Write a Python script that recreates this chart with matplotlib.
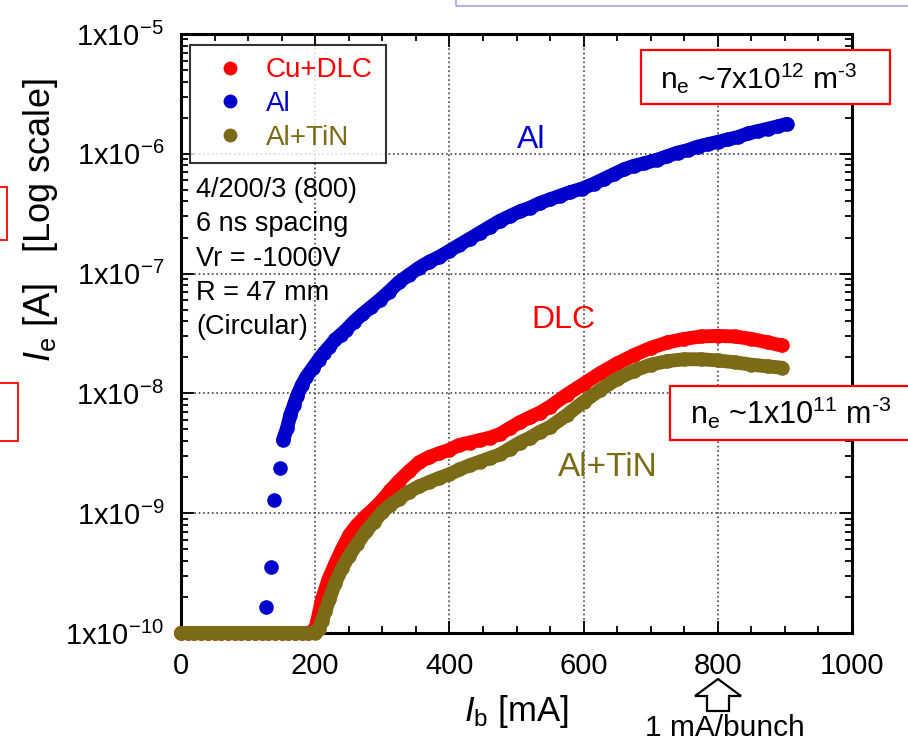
import matplotlib
matplotlib.use('Agg')
import matplotlib.pyplot as plt
from matplotlib.patches import Rectangle, Polygon
from matplotlib.ticker import FixedLocator, LogLocator, NullFormatter
import numpy as np

plt.rcParams['font.family'] = ['Liberation Sans', 'DejaVu Sans']
plt.rcParams['mathtext.fontset'] = 'custom'
plt.rcParams['mathtext.rm'] = 'Liberation Sans'
plt.rcParams['mathtext.it'] = 'Liberation Sans:italic'
plt.rcParams['mathtext.default'] = 'regular'

# ---- data: beam current [mA] and log10 of electron current [A]
dlc_ib = [0, 10, 20, 30, 40, 50, 60, 70, 80, 90, 100, 110, 120, 130, 140, 150,
          160, 170, 180, 190, 200, 205, 210, 220, 230, 240, 251, 262, 276, 288,
          300, 312, 325, 340, 355, 370, 385, 400, 415, 430, 445, 460, 475, 490,
          505, 520, 535, 550, 575, 600, 625, 650, 675, 700, 725, 750, 775, 800,
          825, 850, 875, 895]
dlc_log = [-10, -10, -10, -10, -10, -10, -10, -10, -10, -10, -10, -10, -10, -10,
           -10, -10, -10, -10, -10, -10, -9.97, -9.85, -9.72, -9.55, -9.42, -9.30,
           -9.18, -9.10, -9.02, -8.96, -8.89, -8.81, -8.73, -8.65, -8.575, -8.53,
           -8.50, -8.47, -8.43, -8.41, -8.39, -8.37, -8.34, -8.29, -8.24, -8.20,
           -8.16, -8.11, -8.01, -7.92, -7.83, -7.75, -7.68, -7.62, -7.575, -7.545,
           -7.525, -7.52, -7.525, -7.545, -7.575, -7.60]

al_ib = [127, 134, 139, 148, 152, 158, 163, 168, 173, 180, 187, 196, 205, 213,
         221, 230, 238, 246, 258, 270, 283, 296, 310, 325, 340, 355, 370, 385,
         400, 415, 430, 445, 460, 475, 490, 505, 520, 535, 550, 565, 580, 598,
         615, 630, 645, 660, 675, 690, 709, 725, 740, 755, 770, 785, 800, 815,
         830, 845, 860, 875, 890, 903]
al_log = [-9.78, -9.45, -8.89, -8.62, -8.39, -8.29, -8.18, -8.10, -8.02, -7.93,
          -7.86, -7.79, -7.72, -7.66, -7.61, -7.55, -7.51, -7.47, -7.40, -7.34,
          -7.28, -7.22, -7.15, -7.07, -7.01, -6.95, -6.90, -6.86, -6.81, -6.76,
          -6.71, -6.66, -6.61, -6.56, -6.52, -6.48, -6.45, -6.41, -6.38, -6.35,
          -6.32, -6.29, -6.25, -6.21, -6.17, -6.13, -6.10, -6.08, -6.05, -6.02,
          -5.99, -5.97, -5.94, -5.92, -5.90, -5.88, -5.86, -5.83, -5.81, -5.79,
          -5.77, -5.75]

tin_ib = [0, 10, 20, 30, 40, 50, 60, 70, 80, 90, 100, 110, 120, 130, 140, 150,
          160, 170, 180, 190, 200, 205, 210, 215, 221, 230, 240, 250, 262, 276,
          288, 300, 312, 325, 340, 355, 370, 385, 400, 415, 430, 445, 460, 475,
          490, 505, 520, 535, 550, 575, 600, 625, 650, 675, 700, 725, 750, 775,
          800, 825, 850, 875, 895]
tin_log = [-10, -10, -10, -10, -10, -10, -10, -10, -10, -10, -10, -10, -10, -10,
           -10, -10, -10, -10, -10, -10, -10, -9.97, -9.90, -9.82, -9.72, -9.58,
           -9.46, -9.36, -9.26, -9.15, -9.07, -8.99, -8.93, -8.88, -8.82, -8.775,
           -8.74, -8.705, -8.675, -8.635, -8.60, -8.57, -8.54, -8.51, -8.46, -8.41,
           -8.37, -8.32, -8.28, -8.18, -8.07, -7.97, -7.88, -7.81, -7.76, -7.73,
           -7.715, -7.715, -7.725, -7.74, -7.76, -7.775, -7.785]

xticks = [0, 200, 400, 600, 800, 1000]
ydecades = [-10, -9, -8, -7, -6, -5]
notes = ['4/200/3 (800)', '6 ns spacing', 'Vr = -1000V', 'R = 47 mm', '(Circular)']

RED = '#ff0000'
BLUE = '#0000cc'
OLIVE = '#7b6b16'

W, H = 908, 745
fig = plt.figure(figsize=(W / 100, H / 100), dpi=100)


def px(x, y):
    # pixel position (from top-left) -> figure fraction
    return x / W, 1 - y / H


ax = fig.add_axes([181 / W, 1 - 633 / H, (852 - 181) / W, (633 - 34) / H])
ax.set_yscale('log')
ax.set_xlim(0, 1000)
ax.set_ylim(1e-10, 1e-5)

ms = 10.5
band = 10
dlc_i = np.power(10.0, dlc_log)
al_i = np.power(10.0, al_log)
tin_i = np.power(10.0, tin_log)

# dense point clouds look like a continuous thick band in the original
ax.plot(dlc_ib, dlc_i, '-', color=RED, lw=band, solid_capstyle='round',
        solid_joinstyle='round', clip_on=False, zorder=3)
ax.plot(dlc_ib, dlc_i, 'o', color=RED, ms=ms, mec='none', clip_on=False,
        label='Cu+DLC', zorder=3)
ax.plot(al_ib[4:], al_i[4:], '-', color=BLUE, lw=band, solid_capstyle='round',
        solid_joinstyle='round', clip_on=False, zorder=3)
ax.plot(al_ib, al_i, 'o', color=BLUE, ms=ms, mec='none', clip_on=False,
        label='Al', zorder=3)
ax.plot(tin_ib, tin_i, '-', color=OLIVE, lw=band, solid_capstyle='round',
        solid_joinstyle='round', clip_on=False, zorder=4)
ax.plot(tin_ib, tin_i, 'o', color=OLIVE, ms=ms, mec='none', clip_on=False,
        label='Al+TiN', zorder=4)

# ticks & grid
ax.xaxis.set_major_locator(FixedLocator(xticks))
ax.xaxis.set_minor_locator(FixedLocator(np.arange(50, 1000, 50)))
ax.yaxis.set_major_locator(FixedLocator([10.0 ** d for d in ydecades]))
ax.yaxis.set_minor_locator(LogLocator(base=10, subs=np.arange(2, 10), numticks=20))
ax.yaxis.set_minor_formatter(NullFormatter())
ax.set_yticklabels([r'1x10$^{%d}$' % d for d in ydecades])
ax.set_xticklabels([str(v) for v in xticks])
ax.tick_params(which='both', direction='in', top=True, right=True, width=1.3,
               colors='black', labelsize=21)
ax.tick_params(which='major', length=9)
ax.tick_params(which='minor', length=5)
ax.tick_params(axis='x', pad=14)
ax.tick_params(axis='y', pad=12)
for s in ax.spines.values():
    s.set_linewidth(2.2)
ax.grid(True, which='major', linestyle=':', color='#444444', linewidth=1.2)

leg = ax.legend(loc='upper left', bbox_to_anchor=(0.013, 0.982), borderaxespad=0,
                fontsize=20, frameon=True, fancybox=False, edgecolor='black',
                handletextpad=0.3, handlelength=2.0, borderpad=0.45,
                labelspacing=0.28, markerscale=0.95)
leg.get_frame().set_linewidth(1.5)
for txt, c in zip(leg.get_texts(), [RED, BLUE, OLIVE]):
    txt.set_color(c)

# run conditions
for i, line in enumerate(notes):
    fig.text(*px(196, 190 + i * 34.3), line, fontsize=19.5, va='center', ha='left')

# curve labels
fig.text(*px(531, 140), 'Al', color=BLUE, fontsize=23, ha='center', va='center')
fig.text(*px(563, 320), 'DLC', color=RED, fontsize=23, ha='center', va='center')
fig.text(*px(608, 467), 'Al+TiN', color=OLIVE, fontsize=24, ha='center', va='center')

# axis labels
fig.text(*px(516, 712), r'$\mathit{I}_{\mathregular{b}}$ [mA]', fontsize=25,
         ha='center', va='center')
fig.text(*px(41, 220), r'$\mathit{I}_{\mathregular{e}}$ [A]   [Log scale]', fontsize=26,
         ha='center', va='center', rotation=90)

# density boxes (white filled, they hide the right spine)
for (x0, y0, x1, y1) in [(641, 50, 890, 104), (670, 386, 920, 440)]:
    fig.patches.append(Rectangle(px(x0, y1), (x1 - x0) / W, (y1 - y0) / H,
                                 transform=fig.transFigure, facecolor='white',
                                 edgecolor='#ff0000', linewidth=1.6, zorder=2))
fig.text(*px(660, 78), r'n$_{e}$ ~7x10$^{12}$ m$^{\mathregular{\text{-}3}}$', fontsize=21.5,
         ha='left', va='center')
fig.text(*px(690, 413), r'n$_{e}$ ~1x10$^{11}$ m$^{\mathregular{\text{-}3}}$', fontsize=22,
         ha='left', va='center')

# 1 mA/bunch arrow
arrow = [(718, 679), (741, 696), (729, 696), (729, 711), (707, 711), (707, 696), (695, 696)]
fig.patches.append(Polygon([px(x, y) for x, y in arrow], closed=True,
                           transform=fig.transFigure, facecolor='white',
                           edgecolor='black', linewidth=1.6))
fig.text(*px(725, 728), '1 mA/bunch', fontsize=21.5, ha='center', va='center')

# slide fragments cut off by the crop
fig.patches.append(Rectangle(px(456, 6), 0.6, 0.05, transform=fig.transFigure,
                             fill=False, edgecolor='#aaaaee', linewidth=1.3))
fig.patches.append(Rectangle(px(-10, 240), 17 / W, 53 / H, transform=fig.transFigure,
                             fill=False, edgecolor='#ff0000', linewidth=1.3))
fig.patches.append(Rectangle(px(-10, 441), 28 / W, 58 / H, transform=fig.transFigure,
                             fill=False, edgecolor='#ff0000', linewidth=1.3))

fig.savefig('out.png', dpi=100)
